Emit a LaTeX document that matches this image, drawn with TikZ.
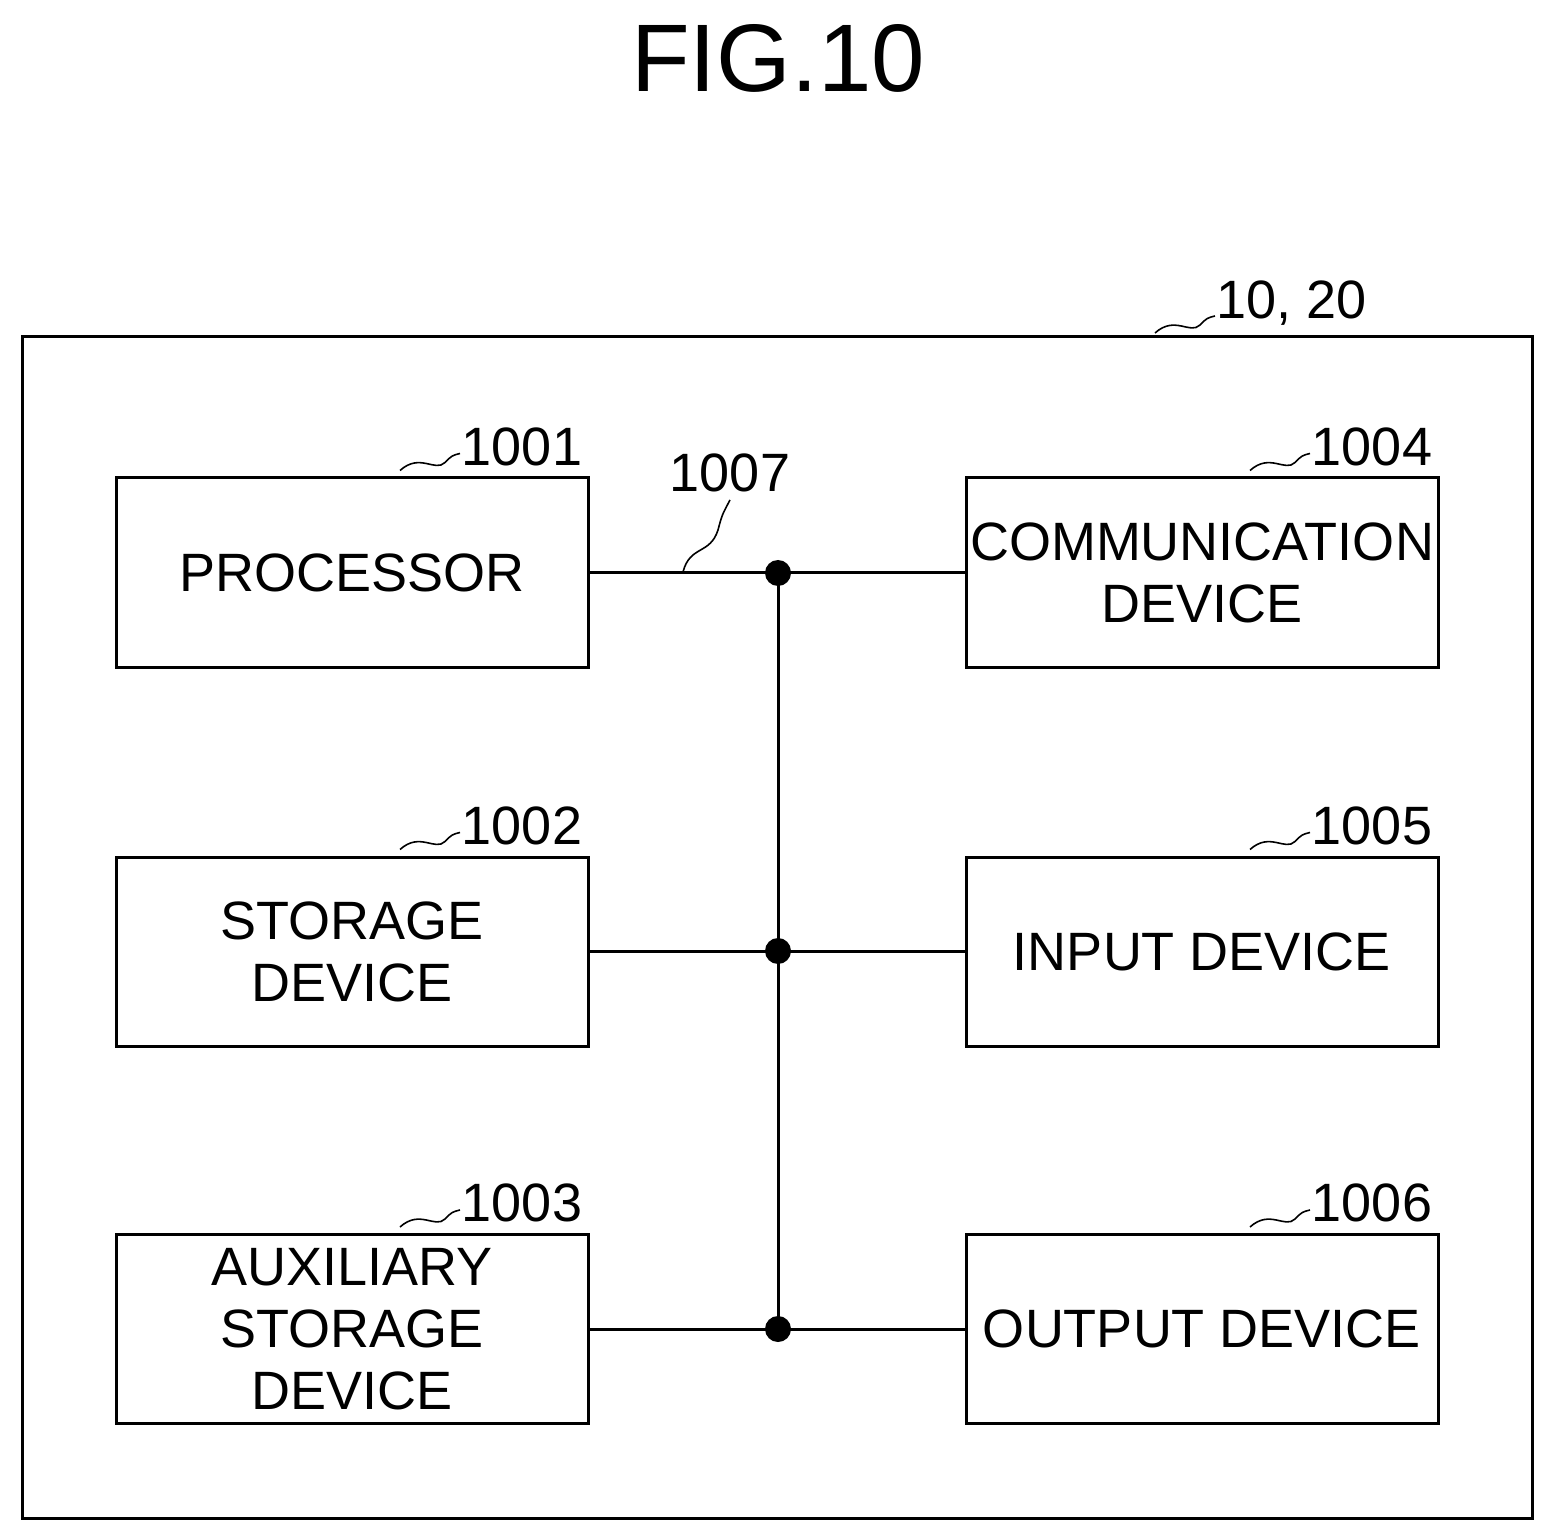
\documentclass[tikz,border=0pt]{standalone}
\usepackage{fontspec}
\setmainfont{Liberation Sans}
\begin{document}
\begin{tikzpicture}[x=0.5pt,y=-0.5pt,
  box/.style={draw,line width=1.5pt,minimum width=236pt,minimum height=94.5pt,align=center,font=\fontsize{27}{31}\selectfont,inner sep=0pt},
  num/.style={font=\fontsize{27}{31}\selectfont,inner sep=0pt},
  wire/.style={line width=1.5pt},
  sq/.style={line width=0.8pt},
  dot/.style={circle,fill,inner sep=0pt,minimum size=13pt}]
\useasboundingbox (0,0) rectangle (1554,1540);
\node[font=\fontsize{48}{52}\selectfont] (title) at (778,58) {FIG.10};
\node[draw,line width=1.5pt,minimum width=755pt,minimum height=590.5pt,inner sep=0pt] (outer) at (777,927.5) {};
\node[num] (l0) at (1292,303) {10, 20};
\draw[sq] (1155,333) .. controls (1175,315) and (1190,335) .. (1200,325) .. controls (1207,318) .. (1215,316);
\foreach \n/\t/\y/\lab in {p/PROCESSOR/572.5/1001, s/STORAGE\\DEVICE/951.5/1002, a/AUXILIARY\\STORAGE\\DEVICE/1329/1003}{
  \node[box] (\n) at (352,\y) {\t};
  \node[num] (\n l) at (522,\y-126) {\lab};
  \draw[sq] (400,\y-102) .. controls (420,\y-120) and (435,\y-100) .. (445,\y-110) .. controls (452,\y-117) .. (460,\y-119);
}
\foreach \n/\t/\y/\lab in {c/COMMUNICATION\\DEVICE/572.5/1004, i/INPUT DEVICE/951.5/1005, o/OUTPUT DEVICE/1329/1006}{
  \node[box] (\n) at (1202,\y) {\t};
  \node[num] (\n l) at (1372,\y-126) {\lab};
  \draw[sq] (1250,\y-102) .. controls (1270,\y-120) and (1285,\y-100) .. (1295,\y-110) .. controls (1302,\y-117) .. (1310,\y-119);
}
\node[dot] (d1) at (778,573) {};
\node[dot] (d2) at (778,951) {};
\node[dot] (d3) at (778,1329) {};
\draw[wire] (d1.center) -- (d3.center);
\draw[wire] (p.east |- d1) -- (c.west |- d1);
\draw[wire] (s.east |- d2) -- (i.west |- d2);
\draw[wire] (a.east |- d3) -- (o.west |- d3);
\node[num] (bl) at (730,473) {1007};
\draw[sq] (683,572) .. controls (690,545) and (710,555) .. (718,530) .. controls (722,515) .. (730,500);
\end{tikzpicture}
\end{document}
